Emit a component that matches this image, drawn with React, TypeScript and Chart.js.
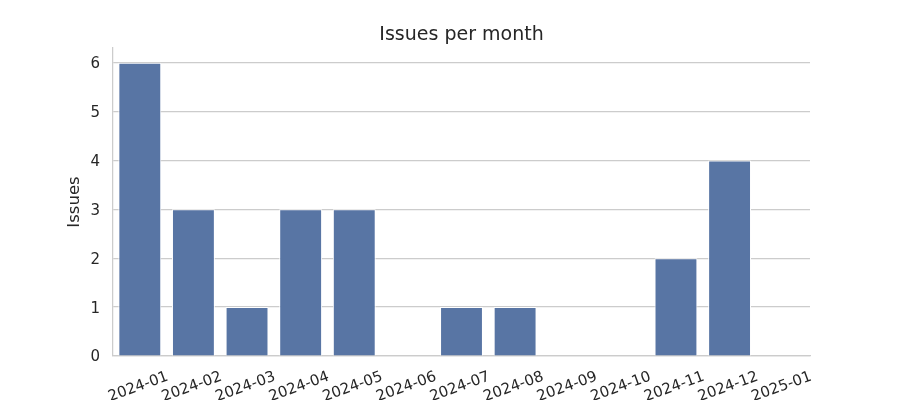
import React, { useEffect, useRef } from "react";
import { Chart, registerables } from "chart.js";

Chart.register(...registerables);

const months = [
  "2024-01", "2024-02", "2024-03", "2024-04", "2024-05", "2024-06", "2024-07",
  "2024-08", "2024-09", "2024-10", "2024-11", "2024-12", "2025-01",
];
const issues = [6, 3, 1, 3, 3, 0, 1, 1, 0, 0, 2, 4, 0];
const yTicks = [0, 1, 2, 3, 4, 5, 6];
const yMax = 6.3;
const titleText = "Issues per month";
const yTitleText = "Issues";

const FONT = "'DejaVu Sans', sans-serif";
const TEXT = "#262626";

const textPlugin = {
  id: "mplText",
  afterDraw(chart: any) {
    const { ctx, chartArea } = chart;
    const xs = chart.scales.x;
    const ys = chart.scales.y;
    ctx.save();
    ctx.fillStyle = TEXT;
    // title
    ctx.font = `19px ${FONT}`;
    ctx.textAlign = "center";
    ctx.textBaseline = "alphabetic";
    ctx.fillText(titleText, (chartArea.left + chartArea.right) / 2, chartArea.top - 8.5);
    // y title
    ctx.save();
    ctx.font = `16.5px ${FONT}`;
    ctx.translate(chartArea.left - 34, (chartArea.top + chartArea.bottom) / 2);
    ctx.rotate(-Math.PI / 2);
    ctx.textAlign = "center";
    ctx.textBaseline = "alphabetic";
    ctx.fillText(yTitleText, 0, 0);
    ctx.restore();
    // y tick labels
    ctx.font = `15px ${FONT}`;
    ctx.textAlign = "right";
    ctx.textBaseline = "middle";
    yTicks.forEach((v) => {
      ctx.fillText(String(v), chartArea.left - 13, ys.getPixelForValue(v) + 1.5);
    });
    // x tick labels, rotated 20°, centered on tick
    ctx.textAlign = "center";
    ctx.textBaseline = "middle";
    months.forEach((m, i) => {
      const px = xs.getPixelForTick(i);
      ctx.save();
      ctx.translate(px - 1.5, chartArea.bottom + 31);
      ctx.rotate((-20 * Math.PI) / 180);
      ctx.fillText(m, 0, 0);
      ctx.restore();
    });
    ctx.restore();
  },
};

export default function App() {
  const ref = useRef<HTMLCanvasElement | null>(null);
  useEffect(() => {
    document.body.style.margin = "0";
    const chart = new Chart(ref.current!, {
      type: "bar",
      data: {
        labels: months,
        datasets: [
          {
            label: "Issues",
            data: issues,
            backgroundColor: "#5875a4",
            borderColor: "#ffffff",
            borderWidth: 1,
            barPercentage: 0.8,
            categoryPercentage: 1,
          },
        ],
      },
      plugins: [textPlugin],
      options: {
        animation: false,
        responsive: false,
        maintainAspectRatio: false,
        layout: { padding: { top: 48, right: 90, left: 0, bottom: 0 } },
        plugins: {
          legend: { display: false },
          tooltip: { enabled: false },
          title: { display: false },
        },
        scales: {
          x: {
            grid: { display: false, drawTicks: false },
            border: { display: true, color: "#cccccc", width: 1.25 },
            ticks: { display: false },
            afterFit: (scale: any) => {
              scale.height = 44;
            },
          },
          y: {
            min: 0,
            max: yMax,
            afterBuildTicks: (scale: any) => {
              scale.ticks = yTicks.map((v) => ({ value: v }));
            },
            afterFit: (scale: any) => {
              scale.width = 113;
            },
            ticks: { display: false },
            grid: { color: "#cccccc", lineWidth: 1.25, drawTicks: false },
            border: { display: true, color: "#cccccc", width: 1.25 },
          },
        },
      },
    });
    return () => chart.destroy();
  }, []);
  return (
    <div style={{ position: "fixed", left: 0, top: 0, width: 900, height: 400 }}>
      <canvas ref={ref} width={900} height={400} style={{ width: 900, height: 400 }} />
    </div>
  );
}
